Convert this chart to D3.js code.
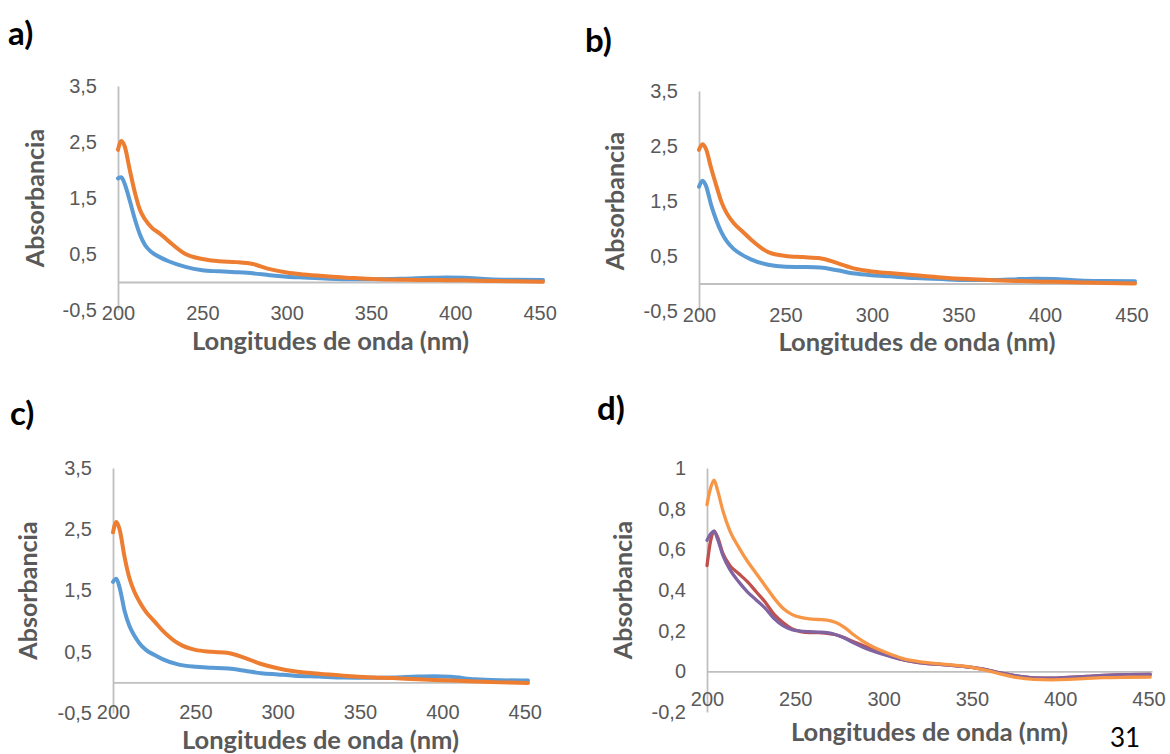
<!DOCTYPE html>
<html>
<head>
<meta charset="utf-8">
<script src="https://cdn.jsdelivr.net/npm/d3@7"></script>
<style>
  body { margin: 0; background: #fff; }
  svg { display: block; font-family: Lato, "Open Sans", sans-serif; }
</style>
</head>
<body>
<div id="chart"></div>
<script>
// longitudes de onda (nm) para los paneles a, b y c
const wlABC = [200, 202, 204, 207, 210, 213, 216, 220, 225, 230, 240, 250, 260, 270, 280, 290, 300, 310, 325, 340, 355, 370, 385, 395, 405, 420, 435, 452];

const aBlue   = [1.85, 1.87, 1.75, 1.45, 1.12, 0.85, 0.66, 0.53, 0.44, 0.37, 0.27, 0.21, 0.19, 0.175, 0.155, 0.12, 0.095, 0.08, 0.06, 0.05, 0.05, 0.06, 0.075, 0.08, 0.075, 0.05, 0.04, 0.035];
const aOrange = [2.36, 2.52, 2.42, 2.0, 1.6, 1.29, 1.12, 0.97, 0.86, 0.73, 0.5, 0.41, 0.37, 0.355, 0.32, 0.23, 0.17, 0.135, 0.1, 0.07, 0.05, 0.04, 0.035, 0.033, 0.03, 0.02, 0.012, 0.005];

const bBlue   = [1.76, 1.87, 1.78, 1.43, 1.15, 0.93, 0.77, 0.63, 0.52, 0.44, 0.34, 0.305, 0.3, 0.29, 0.24, 0.18, 0.15, 0.13, 0.1, 0.08, 0.065, 0.065, 0.08, 0.085, 0.08, 0.055, 0.045, 0.04];
const bOrange = [2.43, 2.53, 2.45, 2.1, 1.78, 1.48, 1.28, 1.1, 0.95, 0.8, 0.57, 0.5, 0.48, 0.46, 0.37, 0.27, 0.22, 0.19, 0.15, 0.11, 0.08, 0.06, 0.045, 0.035, 0.03, 0.02, 0.01, 0.0];

const cBlue   = [1.64, 1.69, 1.55, 1.17, 0.92, 0.76, 0.64, 0.53, 0.45, 0.38, 0.29, 0.255, 0.24, 0.225, 0.19, 0.15, 0.13, 0.11, 0.095, 0.08, 0.075, 0.08, 0.095, 0.1, 0.09, 0.05, 0.035, 0.03];
const cOrange = [2.45, 2.62, 2.5, 2.05, 1.7, 1.48, 1.32, 1.15, 1.0, 0.85, 0.63, 0.53, 0.5, 0.48, 0.4, 0.3, 0.23, 0.18, 0.14, 0.11, 0.085, 0.07, 0.05, 0.04, 0.03, 0.015, 0.0, -0.01];

// panel d
const wlD = [200, 202, 204, 206, 209, 213, 218, 223, 228, 233, 238, 243, 248, 253, 258, 263, 268, 273, 278, 283, 288, 293, 298, 305, 312, 320, 330, 340, 350, 358, 366, 375, 385, 395, 405, 415, 425, 438, 451];
const dRed    = [0.52, 0.64, 0.69, 0.66, 0.58, 0.52, 0.48, 0.44, 0.39, 0.34, 0.28, 0.24, 0.21, 0.195, 0.19, 0.19, 0.187, 0.18, 0.165, 0.145, 0.128, 0.11, 0.093, 0.072, 0.055, 0.043, 0.035, 0.028, 0.02, 0.008, -0.008, -0.022, -0.032, -0.034, -0.03, -0.025, -0.02, -0.016, -0.015];
const dPurple = [0.645, 0.675, 0.69, 0.65, 0.57, 0.5, 0.44, 0.39, 0.35, 0.31, 0.26, 0.225, 0.205, 0.198, 0.195, 0.193, 0.19, 0.18, 0.163, 0.14, 0.12, 0.103, 0.088, 0.07, 0.055, 0.043, 0.035, 0.028, 0.02, 0.008, -0.008, -0.022, -0.032, -0.034, -0.03, -0.025, -0.02, -0.016, -0.015];
const dOrange = [0.82, 0.9, 0.94, 0.89, 0.79, 0.69, 0.61, 0.54, 0.48, 0.42, 0.36, 0.31, 0.28, 0.265, 0.258, 0.255, 0.252, 0.24, 0.215, 0.18, 0.15, 0.125, 0.105, 0.08, 0.06, 0.048, 0.038, 0.03, 0.02, 0.005, -0.012, -0.03, -0.04, -0.042, -0.04, -0.035, -0.031, -0.029, -0.028];

const xTicks = [200, 250, 300, 350, 400, 450];
const yTicksABC = [-0.5, 0.5, 1.5, 2.5, 3.5];
const yTicksD = [-0.2, 0, 0.2, 0.4, 0.6, 0.8, 1];

const xTitle = "Longitudes de onda (nm)";
const yTitle = "Absorbancia";

const W = 1170, H = 754;
const svg = d3.select("#chart").append("svg")
    .attr("width", W)
    .attr("height", H);

const fmt = d => String(d).replace(".", ",");

function drawPanel(p) {
    const x = d3.scaleLinear().domain([200, 452]).range([p.left, p.right]);
    const y = d3.scaleLinear().domain(p.yDomain).range([p.bottom, p.top]);
    const g = svg.append("g");

    // eje Y
    const yAxis = g.append("g")
        .attr("transform", `translate(${p.left},0)`)
        .call(d3.axisLeft(y).tickValues(p.yTicks).tickSize(0).tickSizeOuter(0).tickPadding(21).tickFormat(fmt));
    yAxis.select(".domain").attr("stroke", "#BFBFBF").attr("stroke-width", 1.8);
    yAxis.selectAll("text").attr("fill", "#595959").style("font-size", "20px");

    // eje X (cruza en 0)
    const xAxis = g.append("g")
        .attr("transform", `translate(0,${y(0)})`)
        .call(d3.axisBottom(x).tickValues(xTicks).tickSize(0).tickSizeOuter(0));
    xAxis.select(".domain").attr("stroke", "#BFBFBF").attr("stroke-width", 1.8);
    xAxis.selectAll("text")
        .attr("y", p.xLabelOffset)
        .attr("dy", "0.35em")
        .attr("fill", "#595959")
        .style("font-size", "20px");

    // líneas
    p.series.forEach(s => {
        const line = d3.line()
            .x((d, i) => x(p.wl[i]))
            .y(d => y(d))
            .curve(d3.curveMonotoneX);
        g.append("path")
            .datum(s.values)
            .attr("fill", "none")
            .attr("stroke", s.color)
            .attr("stroke-width", p.lineWidth)
            .attr("stroke-linejoin", "round")
            .attr("stroke-linecap", "round")
            .attr("d", line);
    });

    // títulos
    g.append("text")
        .attr("x", (p.left + p.right) / 2)
        .attr("y", p.xTitleY)
        .attr("dy", "0.35em")
        .attr("text-anchor", "middle")
        .attr("fill", "#595959")
        .style("font-size", "25.5px")
        .style("font-weight", "bold")
        .text(xTitle);

    g.append("text")
        .attr("transform", `translate(${p.yTitleX},${(p.top + p.bottom) / 2}) rotate(-90)`)
        .attr("dy", "0.35em")
        .attr("text-anchor", "middle")
        .attr("fill", "#595959")
        .style("font-size", "25px")
        .style("font-weight", "bold")
        .text(yTitle);

    svg.append("text")
        .attr("x", p.letterX)
        .attr("y", p.letterY)
        .attr("dy", "0.35em")
        .attr("fill", "#000")
        .style("font-size", "33px")
        .style("font-weight", "bold")
        .text(p.letter);
}

const blue = "#5B9BD5", orange = "#ED7D31";

drawPanel({
    letter: "a)", letterX: 8, letterY: 33,
    left: 118, right: 543, top: 86, bottom: 310, yDomain: [-0.5, 3.5], yTicks: yTicksABC,
    xLabelOffset: 31, xTitleY: 341, yTitleX: 35, lineWidth: 4, wl: wlABC,
    series: [{ values: aBlue, color: blue }, { values: aOrange, color: orange }]
});

drawPanel({
    letter: "b)", letterX: 585, letterY: 40,
    left: 699, right: 1135, top: 91, bottom: 311, yDomain: [-0.5, 3.5], yTicks: yTicksABC,
    xLabelOffset: 31, xTitleY: 342, yTitleX: 615, lineWidth: 4, wl: wlABC,
    series: [{ values: bBlue, color: blue }, { values: bOrange, color: orange }]
});

drawPanel({
    letter: "c)", letterX: 10, letterY: 413,
    left: 113, right: 528, top: 468, bottom: 713, yDomain: [-0.5, 3.5], yTicks: yTicksABC,
    xLabelOffset: 30, xTitleY: 740, yTitleX: 28, lineWidth: 4, wl: wlABC,
    series: [{ values: cBlue, color: blue }, { values: cOrange, color: orange }]
});

drawPanel({
    letter: "d)", letterX: 597, letterY: 408,
    left: 707, right: 1152, top: 468, bottom: 712, yDomain: [-0.2, 1], yTicks: yTicksD,
    xLabelOffset: 28, xTitleY: 732, yTitleX: 623, lineWidth: 3.3, wl: wlD,
    series: [{ values: dRed, color: "#C0504D" }, { values: dPurple, color: "#8064A2" }, { values: dOrange, color: "#F79646" }]
});

// número de página
svg.append("text")
    .attr("x", 1125)
    .attr("y", 738)
    .attr("dy", "0.35em")
    .attr("text-anchor", "middle")
    .attr("fill", "#000")
    .style("font-size", "26px")
    .text("31");
</script>
</body>
</html>
